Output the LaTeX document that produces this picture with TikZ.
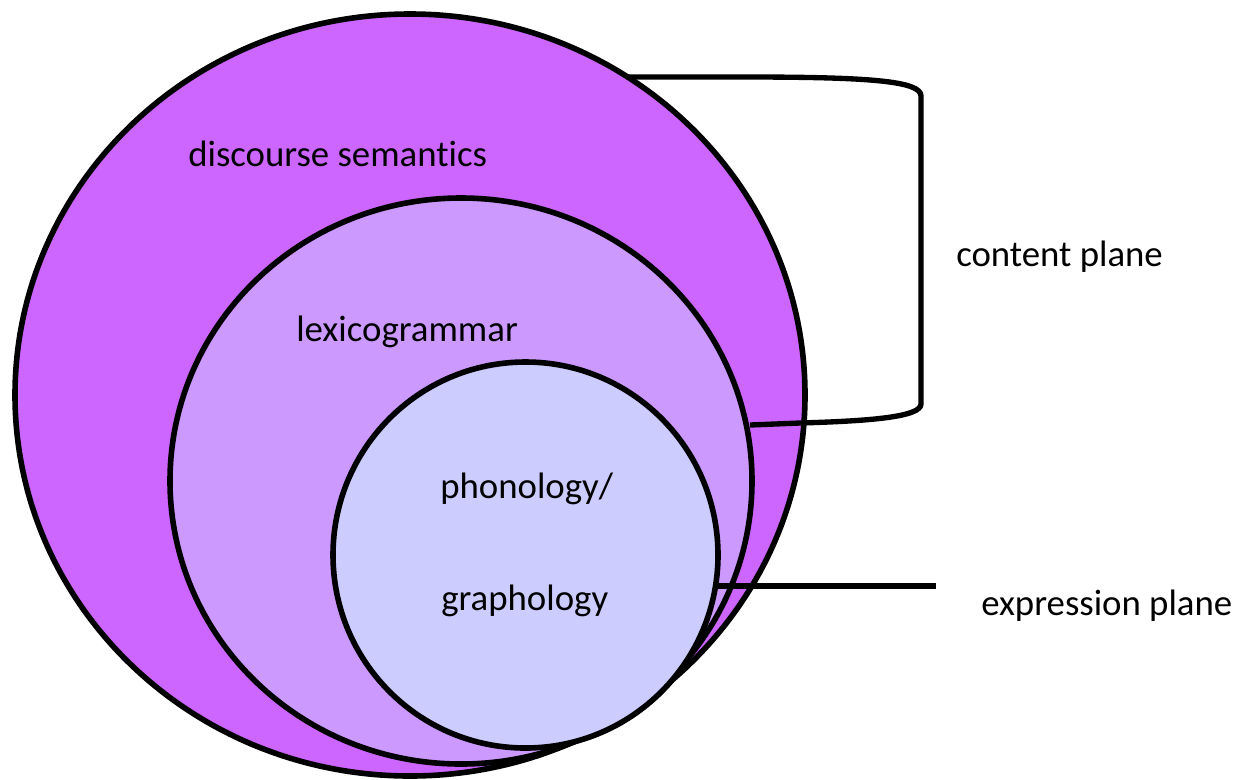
\documentclass[tikz,border=0pt]{standalone}
\usepackage{fontspec}
\setmainfont{Carlito}[Ligatures={NoCommon}]
\usetikzlibrary{shapes.geometric}

\definecolor{stratumA}{HTML}{CC66FF}
\definecolor{stratumB}{HTML}{CC99FF}
\definecolor{stratumC}{HTML}{CCCCFF}

\tikzset{
  stratum/.style={ellipse, draw=black, line width=4.2pt, inner sep=0pt, outer sep=0pt},
  label/.style={anchor=base west, inner sep=0pt, font=\fontsize{27.6}{32}\selectfont},
  bracket/.style={draw=black, line width=4pt, line join=round}
}

\begin{document}
\begin{tikzpicture}[x=0.75pt, y=-0.75pt]
  \useasboundingbox (0,0) rectangle (1248,779);

  % nested strata
  \node[stratum, fill=stratumA, minimum width=592.5pt, minimum height=571.5pt] (outer) at (410,395) {};
  \node[stratum, fill=stratumB, minimum width=436.5pt, minimum height=424.5pt] (middle) at (461,481) {};
  \node[stratum, fill=stratumC, minimum width=288.75pt, minimum height=289.5pt] (inner) at (525.5,555) {};

  % stratum names
  \node[label] (ds) at (188,166) {discourse semantics};
  \node[label] (lg) at (296,341) {lexicogrammar};
  \node[label] (ph) at (440,498) {phonology/};
  \node[label] (gr) at (441,610) {graphology};

  % plane names
  \node[label] (cp) at (956,266) {content plane};
  \node[label] (ep) at (981,615) {expression plane};

  % bracket for the content plane
  \coordinate (cpTop) at (627,77);
  \coordinate (cpBot) at (750,425);
  \coordinate (cpBend) at (745,77);
  \draw[bracket] (cpTop) -- (cpBend)
    .. controls (870,77) and (921,81) .. (921,96)
    -- (921,404)
    .. controls (921,417) and (870,421) .. (800,423)
    -- (cpBot);

  % line for the expression plane
  \coordinate (epStart) at (718,586);
  \coordinate (epEnd) at (936,586);
  \draw[bracket] (epStart) -- (epEnd);
\end{tikzpicture}
\end{document}
